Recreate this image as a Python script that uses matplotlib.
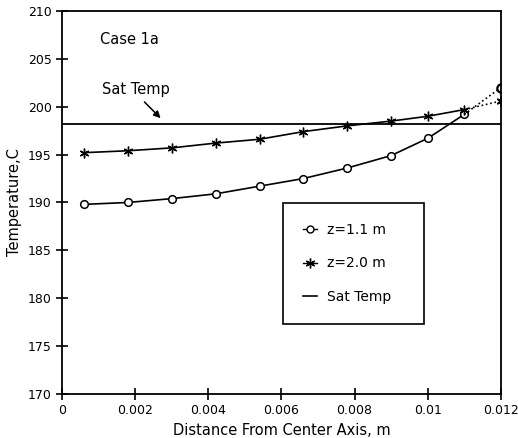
import matplotlib
matplotlib.use("Agg")
from matplotlib import pyplot as plt

# distance from centre axis, m
dist = [0.0006, 0.0018, 0.003, 0.0042, 0.0054, 0.0066, 0.0078, 0.009, 0.010, 0.011, 0.012]

# temperatures, C
temp_z11 = [189.8, 190.0, 190.4, 190.9, 191.7, 192.5, 193.6, 194.9, 196.7, 199.2, 202.0]
temp_z20 = [195.2, 195.4, 195.7, 196.2, 196.6, 197.4, 198.0, 198.5, 199.0, 199.7, 200.6]
sat_temp = 198.2

x_ticks = [0, 0.002, 0.004, 0.006, 0.008, 0.01, 0.012]
x_tick_labels = ["0", "0.002", "0.004", "0.006", "0.008", "0.01", "0.012"]
y_ticks = [170, 175, 180, 185, 190, 195, 200, 205, 210]

plt.rcParams["font.family"] = ["DejaVu Sans"]

fig = plt.figure(figsize=(5.18, 4.38), dpi=100)
ax = fig.add_axes([0.1197, 0.1005, 0.8473, 0.8745])

# solid part of each curve, last segment dotted
ax.plot(dist[:-1], temp_z11[:-1], color="black", lw=1.2, marker="o", ms=5.5,
        mfc="white", mew=1.1)
ax.plot(dist[-2:], temp_z11[-2:], color="black", lw=1.2, ls=":")
ax.plot(dist[-1], temp_z11[-1], color="black", marker="o", ms=6, mfc="white", mew=1.6)

ax.plot(dist[:-1], temp_z20[:-1], color="black", lw=1.2, marker=(6, 2, 0), ms=7, mew=1.0)
ax.plot(dist[-2:], temp_z20[-2:], color="black", lw=1.2, ls=":")
ax.plot(dist[-1], temp_z20[-1], color="black", marker=(6, 2, 0), ms=7, mew=1.2)

ax.axhline(sat_temp, color="black", lw=1.3)

ax.set_xlim(0, 0.012)
ax.set_ylim(170, 210)
ax.set_xticks(x_ticks)
ax.set_xticklabels(x_tick_labels)
ax.set_yticks(y_ticks)
ax.tick_params(direction="inout", length=8, width=1.2, labelsize=9)
for s in ax.spines.values():
    s.set_linewidth(1.3)

ax.set_xlabel("Distance From Center Axis, m", fontsize=10.5)
ax.set_ylabel("Temperature,C", fontsize=10.5)

ax.text(0.00104, 207.0, "Case 1a", fontsize=10.5, va="center")
ax.text(0.0011, 201.75, "Sat Temp", fontsize=10.5, va="center")
ax.annotate("", xy=(0.00275, 198.6), xytext=(0.0022, 200.7),
            arrowprops=dict(arrowstyle="-|>", color="black", lw=1.1))

# legend box placed where the original has it
h1, = ax.plot([], [], color="black", lw=1.0, marker="o", ms=5, mfc="white")
h2, = ax.plot([], [], color="black", lw=1.0, marker=(6, 2, 0), ms=7)
h3, = ax.plot([], [], color="black", lw=1.2)
leg = ax.legend([h1, h2, h3], ["z=1.1 m", "z=2.0 m", "Sat Temp"],
                loc="upper left", bbox_to_anchor=(0.503, 0.186, 0.321, 0.313),
                mode="expand", fontsize=10, handlelength=1.0, labelspacing=1.4,
                borderpad=1.45, borderaxespad=0, handletextpad=0.7,
                fancybox=False, edgecolor="black", framealpha=1)
leg.get_frame().set_linewidth(1.2)
leg._legend_box.align = "left"

fig.savefig("out.png", dpi=100)
